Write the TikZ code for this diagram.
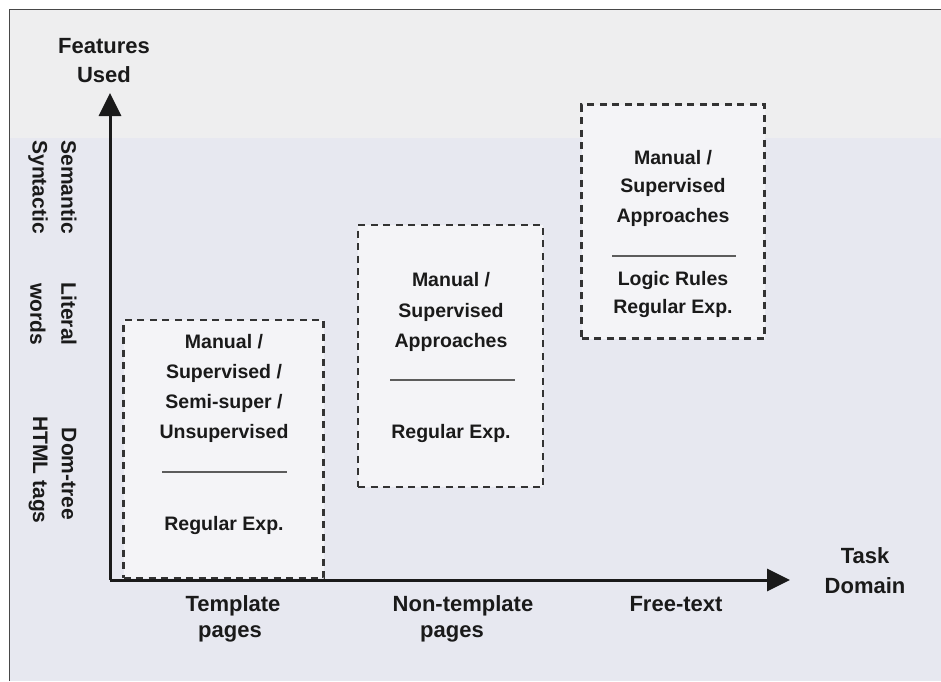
\documentclass[tikz,border=0pt]{standalone}
\usepackage{fontspec}
\setmainfont{Liberation Sans}
\usetikzlibrary{arrows.meta}
\definecolor{bgtop}{HTML}{EEEEEF}
\definecolor{bgmain}{HTML}{E7E8F0}
\definecolor{boxfill}{HTML}{F4F4F7}
\definecolor{ink}{HTML}{1A1A1A}
\definecolor{dashc}{HTML}{333333}
\tikzset{
  lbl/.style={font=\fontsize{22}{24}\selectfont\bfseries, text=ink, inner sep=0pt, anchor=base},
  boxtxt/.style={font=\fontsize{19.5}{22}\selectfont\bfseries, text=ink, inner sep=0pt, anchor=base},
  vlbl/.style={font=\fontsize{21}{23}\selectfont\bfseries, text=ink, inner sep=0pt, rotate=-90},
  dbox/.style={draw=dashc, fill=boxfill, line width=2.6pt, dash pattern=on 7pt off 5.5pt, inner sep=0pt},
  sep/.style={draw=dashc!80, line width=1.5pt},
  axis/.style={draw=ink, line width=3pt, -{Triangle[length=23pt,width=22pt]}}
}
\begin{document}
\begin{tikzpicture}[x=1pt,y=-1pt]
\useasboundingbox (0,0) rectangle (941,681);
% backgrounds
\fill[white] (0,0) rectangle (941,681);
\fill[bgmain] (10,10) rectangle (941,681);
\fill[bgtop] (10,10) rectangle (941,138);
\draw[ink!80, line width=1.5pt] (9.5,681) -- (9.5,9.5) -- (941,9.5);
% boxes
\node[dbox, minimum width=200pt, minimum height=258pt] (b1) at (223.5,449) {};
\node[dbox, minimum width=185pt, minimum height=262pt] (b2) at (450.5,356) {};
\node[dbox, minimum width=183pt, minimum height=234pt] (b3) at (673,221.5) {};
% axes
\coordinate (o) at (110,580);
\coordinate (ytip) at (110,93);
\coordinate (xtip) at (790,580);
\draw[axis] (o) -- (ytip);
\draw[axis] (o) -- (xtip);
% axis titles
\node[lbl] (fu1) at (104,53) {Features};
\node[lbl] (fu2) at (104,82) {Used};
\node[lbl] (td1) at (865,563) {Task};
\node[lbl] (td2) at (865,593) {Domain};
\node[lbl] (x1a) at (233,611) {Template};
\node[lbl] (x1b) at (230,637) {pages};
\node[lbl] (x2a) at (463,611) {Non-template};
\node[lbl] (x2b) at (452,637) {pages};
\node[lbl] (x3) at (676,611) {Free-text};
% vertical labels
\node[vlbl] (v1a) at (69,187) {Semantic};
\node[vlbl] (v1b) at (38,187) {Syntactic};
\node[vlbl] (v2a) at (69,314) {Literal};
\node[vlbl] (v2b) at (38,314) {words};
\node[vlbl] (v3a) at (69,474) {Dom-tree};
\node[vlbl] (v3b) at (38,470) {HTML tags};
% box 1 text
\node[boxtxt] (t11) at (224,348) {Manual /};
\node[boxtxt] (t12) at (224,378) {Supervised /};
\node[boxtxt] (t13) at (224,408) {Semi-super /};
\node[boxtxt] (t14) at (224,438) {Unsupervised};
\coordinate (s1a) at (162,472); \coordinate (s1b) at (287,472);
\draw[sep] (s1a) -- (s1b);
\node[boxtxt] (t15) at (224,530) {Regular Exp.};
% box 2 text
\node[boxtxt] (t21) at (451,286) {Manual /};
\node[boxtxt] (t22) at (451,317) {Supervised};
\node[boxtxt] (t23) at (451,347) {Approaches};
\coordinate (s2a) at (390,380); \coordinate (s2b) at (515,380);
\draw[sep] (s2a) -- (s2b);
\node[boxtxt] (t24) at (451,438) {Regular Exp.};
% box 3 text
\node[boxtxt] (t31) at (673,164) {Manual /};
\node[boxtxt] (t32) at (673,192) {Supervised};
\node[boxtxt] (t33) at (673,222) {Approaches};
\coordinate (s3a) at (612,256); \coordinate (s3b) at (736,256);
\draw[sep] (s3a) -- (s3b);
\node[boxtxt] (t34) at (673,285) {Logic Rules};
\node[boxtxt] (t35) at (673,313) {Regular Exp.};
\end{tikzpicture}
\end{document}
